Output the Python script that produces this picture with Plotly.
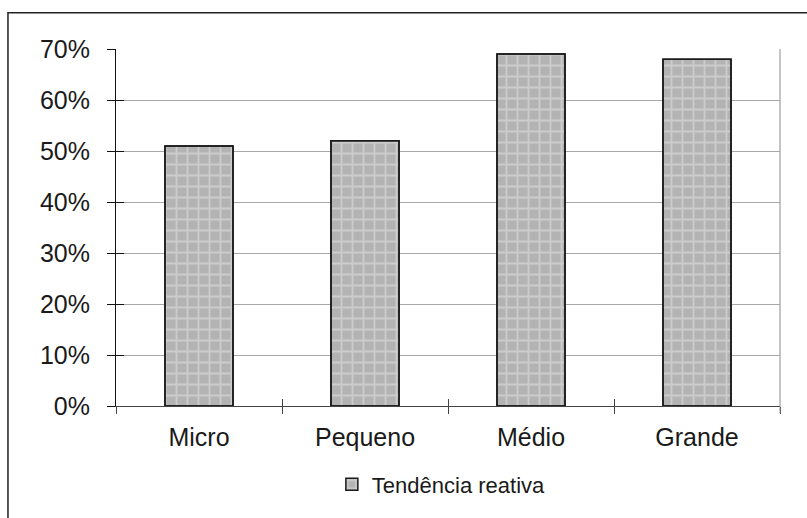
import plotly.graph_objects as go

# Share of firms with a reactive tendency, by company size
categories = ["Micro", "Pequeno", "Médio", "Grande"]
shares = [0.51, 0.52, 0.69, 0.68]
series_name = "Tendência reativa"
y_tick_values = [0.0, 0.1, 0.2, 0.3, 0.4, 0.5, 0.6, 0.7]

FONT = "Liberation Sans, Arial, sans-serif"
BAR_W = 0.41

fig = go.Figure()

# Plaid-like grey fill: light cross lattice over mid grey
fig.add_trace(go.Bar(
    x=categories, y=shares, name=series_name, width=BAR_W,
    marker=dict(
        color="#b3b3b3",
        line=dict(color="#1a1a1a", width=1.5),
        pattern=dict(shape="+", fgcolor="#e6e6e6", bgcolor="#b3b3b3",
                     size=11, solidity=0.3),
    ),
    hoverinfo="x+y",
))

# Same bars on the overlaid axes pair that carries the inner tick marks
fig.add_trace(go.Bar(
    x=categories, y=shares, width=BAR_W, showlegend=False,
    xaxis="x2", yaxis="y2",
    marker=dict(color="rgba(0,0,0,0)",
                line=dict(color="#1a1a1a", width=1.5)),
    hoverinfo="skip",
))

axis_font = dict(family=FONT, size=25, color="#1a1a1a")

fig.update_layout(
    width=807, height=518,
    margin=dict(l=116, r=27, t=49, b=110),
    paper_bgcolor="white", plot_bgcolor="white",
    barmode="overlay",
    font=dict(family=FONT, size=22, color="#1a1a1a"),
    xaxis=dict(
        type="category", range=[-0.5, 3.5],
        showline=True, linecolor="#444444", linewidth=1,
        ticks="outside", tickson="boundaries", ticklen=7,
        tickcolor="#444444", tickwidth=1,
        showgrid=False, tickfont=axis_font, ticklabelstandoff=9,
    ),
    yaxis=dict(
        range=[0, 0.7], tickvals=y_tick_values, tickformat=".0%",
        showline=True, linecolor="#111111", linewidth=1,
        ticks="outside", ticklen=8, tickcolor="#111111", tickwidth=1,
        showgrid=True, gridcolor="#a8a8a8", gridwidth=1,
        zeroline=False, tickfont=axis_font, ticklabelstandoff=12,
    ),
    xaxis2=dict(
        type="category", overlaying="x", range=[-0.5, 3.5],
        showline=False, ticks="inside", tickson="boundaries", ticklen=7,
        tickcolor="#444444", tickwidth=1, showticklabels=False,
        showgrid=False,
    ),
    yaxis2=dict(
        overlaying="y", range=[0, 0.7], tickvals=y_tick_values,
        showline=False, ticks="inside", ticklen=8, tickcolor="#111111",
        tickwidth=1, showticklabels=False, showgrid=False, zeroline=False,
    ),
    legend=dict(
        orientation="h", x=0.49, xanchor="center", y=-0.22, yanchor="middle",
        font=dict(family=FONT, size=22, color="#1a1a1a"),
    ),
    shapes=[
        # right edge of the plot area
        dict(type="line", xref="paper", yref="paper", x0=1, x1=1,
             y0=-0.02, y1=1, line=dict(color="#8c8c8c", width=1)),
        # chart area frame
        dict(type="rect", xref="paper", yref="paper",
             x0=-0.1627, x1=1.2, y0=-0.5, y1=1.1018,
             line=dict(color="#222222", width=1.5), layer="below"),
    ],
)

fig.write_html("out.html")
